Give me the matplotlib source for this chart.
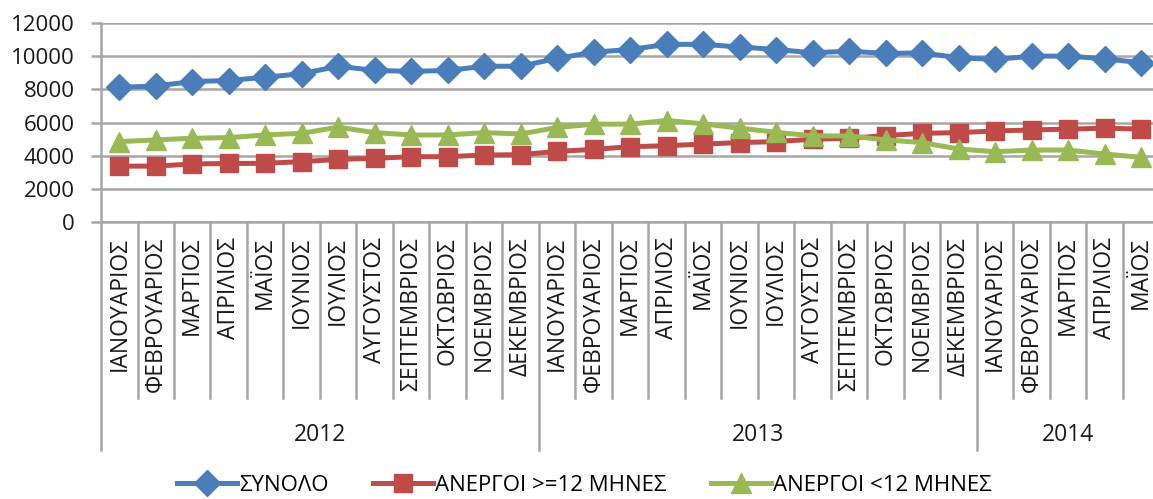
import matplotlib
matplotlib.use("Agg")
import matplotlib.pyplot as plt
import matplotlib.transforms as mtransforms
import numpy as np

plt.rcParams['font.family'] = ['Open Sans', 'DejaVu Sans']

months = ["ΙΑΝΟΥΑΡΙΟΣ", "ΦΕΒΡΟΥΑΡΙΟΣ", "ΜΑΡΤΙΟΣ", "ΑΠΡΙΛΙΟΣ", "ΜΑΪΟΣ", "ΙΟΥΝΙΟΣ",
          "ΙΟΥΛΙΟΣ", "ΑΥΓΟΥΣΤΟΣ", "ΣΕΠΤΕΜΒΡΙΟΣ", "ΟΚΤΩΒΡΙΟΣ", "ΝΟΕΜΒΡΙΟΣ", "ΔΕΚΕΜΒΡΙΟΣ"]
years = ["2012", "2013", "2014"]
months_per_year = [12, 12, 5]

total = [8120, 8200, 8470, 8530, 8730, 8940, 9390, 9140, 9080, 9140, 9390, 9390,
         9870, 10240, 10400, 10710, 10710, 10550, 10400, 10200, 10300, 10160, 10200, 9900,
         9800, 10000, 10000, 9840, 9600]
long_term = [3370, 3370, 3500, 3530, 3540, 3640, 3780, 3840, 3940, 3940, 4040, 4060,
             4260, 4380, 4540, 4600, 4700, 4790, 4850, 4990, 5050, 5210, 5350, 5390,
             5490, 5550, 5600, 5660, 5600]
short_term = [4850, 4950, 5050, 5090, 5250, 5350, 5720, 5390, 5250, 5250, 5390, 5310,
              5700, 5900, 5900, 6120, 5920, 5660, 5410, 5190, 5190, 4950, 4790, 4400,
              4240, 4340, 4340, 4100, 3900]

labels = []
for n in months_per_year:
    labels += months[:n]
x = np.arange(len(labels))

fig = plt.figure(figsize=(11.53, 4.99), dpi=100)
ax = fig.add_axes([0.0876, 0.555, 0.918, 0.399])

grid_c = '#a6a6a6'
txt_c = '#1a1a1a'
ax.plot(x, total, color='#4a7ebb', lw=3.6, marker='D', ms=13, label='ΣΥΝΟΛΟ', zorder=3)
ax.plot(x, long_term, color='#be4b48', lw=3.6, marker='s', ms=13, label='ΑΝΕΡΓΟΙ >=12 ΜΗΝΕΣ', zorder=3)
ax.plot(x, short_term, color='#98b954', lw=3.6, marker='^', ms=14, label='ΑΝΕΡΓΟΙ <12 ΜΗΝΕΣ', zorder=3)

ax.set_xlim(-0.5, len(labels) - 0.5)
ax.set_ylim(0, 12000)
ax.set_yticks(range(0, 12001, 2000))
ax.yaxis.grid(True, color=grid_c, lw=1.8)
ax.set_axisbelow(True)
ax.tick_params(axis='y', labelsize=16, width=1.8, length=7, pad=12, labelcolor=txt_c, color=grid_c)
ax.set_xticks([])
for s in ['top', 'right']:
    ax.spines[s].set_visible(False)
for s in ['left', 'bottom']:
    ax.spines[s].set_color(grid_c)
    ax.spines[s].set_linewidth(1.8)

# multi-level category axis: months, then years
tr = mtransforms.blended_transform_factory(ax.transData, ax.transAxes)
for i, lab in enumerate(labels):
    ax.text(i, -0.075, lab, transform=tr, rotation=90, ha='center', va='top',
            fontsize=16.5, color=txt_c)
year_edges = np.cumsum([0] + months_per_year) - 0.5
for k in range(len(labels) + 1):
    b = k - 0.5
    bottom = -1.146 if b in year_edges else -0.884
    ax.plot([b, b], [0, bottom], transform=tr, color=grid_c, lw=1.8, clip_on=False)
for yr, a, b in zip(years, year_edges[:-1], year_edges[1:]):
    ax.text((a + b) / 2, -1.07, yr, transform=tr, ha='center', va='center',
            fontsize=16.5, color=txt_c)

fig.legend(loc='lower center', bbox_to_anchor=(0.507, -0.03), ncol=3, frameon=False,
           fontsize=16, handlelength=2.7, columnspacing=2.0, handletextpad=0.1,
           borderpad=0.3)

plt.savefig("out.png", dpi=100)
plt.close()
